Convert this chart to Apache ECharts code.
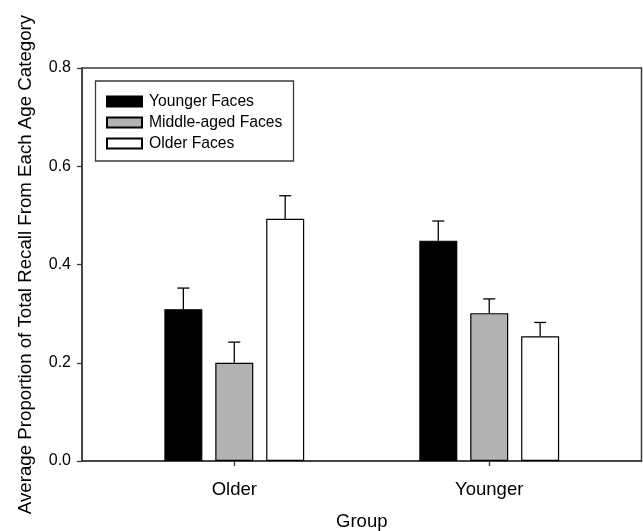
<!DOCTYPE html>
<html>
<head>
<meta charset="utf-8">
<script src="https://cdn.jsdelivr.net/npm/echarts@6/dist/echarts.min.js"></script>
<style>html,body{margin:0;padding:0;background:#fff;}#c{width:643px;height:531px;}</style>
</head>
<body>
<div id="c"></div>
<script>
const categories = ['Older', 'Younger'];
const seriesNames = ['Younger Faces', 'Middle-aged Faces', 'Older Faces'];
const youngerFaces = [0.309, 0.4485];
const middleFaces = [0.200, 0.301];
const olderFaces = [0.493, 0.254];
const youngerErr = [0.043, 0.040];
const middleErr = [0.042, 0.029];
const olderErr = [0.047, 0.028];
const yTicks = [0, 0.2, 0.4, 0.6, 0.8];

const FONT = 'Liberation Sans, Arial, sans-serif';
const AX = '#3a3a3a';
const BAR_W = 38, GAP = 0.34;
const colors = ['#000000', '#b3b3b3', '#ffffff'];
const values = [youngerFaces, middleFaces, olderFaces];
const errs = [youngerErr, middleErr, olderErr];

const chart = echarts.init(document.getElementById('c'), null, {renderer: 'canvas'});

const barSeries = seriesNames.map((n, i) => ({
  name: n, type: 'bar', xAxisIndex: 1, yAxisIndex: 1,
  barWidth: BAR_W, barGap: (GAP * 100) + '%',
  data: values[i],
  itemStyle: {color: colors[i], borderColor: '#000', borderWidth: 1.2},
  emphasis: {disabled: true}, animation: false
}));

const errSeries = seriesNames.map((n, i) => ({
  type: 'custom', xAxisIndex: 1, yAxisIndex: 1, z: 5,
  data: values[i].map((v, k) => [k, v, errs[i][k]]),
  renderItem: function (params, api) {
    const off = (i - 1) * BAR_W * (1 + GAP);
    const p0 = api.coord([api.value(0), api.value(1)]);
    const p1 = api.coord([api.value(0), api.value(1) + api.value(2)]);
    const x = p0[0] + off;
    return {type: 'group', children: [
      {type: 'line', shape: {x1: x, y1: p0[1], x2: x, y2: p1[1]}, style: {stroke: '#000', lineWidth: 1.3}},
      {type: 'line', shape: {x1: x - 6, y1: p1[1], x2: x + 6, y2: p1[1]}, style: {stroke: '#000', lineWidth: 1.3}}
    ]};
  },
  animation: false, silent: true
}));

chart.setOption({
  backgroundColor: '#fff',
  animation: false,
  textStyle: {fontFamily: FONT},
  grid: [
    {left: 82, right: 1.5, top: 68, bottom: 70, show: true, borderColor: AX, borderWidth: 1.5, containLabel: false, outerBoundsMode: 'none'},
    {left: 106.8, right: 26.3, top: 68, bottom: 70, containLabel: false, outerBoundsMode: 'none'}
  ],
  legend: {
    data: seriesNames.map(n => ({name: n, icon: 'rect'})), orient: 'vertical', left: 106, top: 93.5, padding: 0,
    itemWidth: 35, itemHeight: 10, itemGap: 5,
    textStyle: {fontSize: 15.7, color: '#000', fontFamily: FONT, lineHeight: 15, padding: [0, 0, 0, 2]},
    selectedMode: false
  },
  graphic: [{type: 'rect', shape: {x: 95.5, y: 81, width: 198, height: 80}, style: {fill: 'none', stroke: AX, lineWidth: 1.3}, z: 10}],
  xAxis: [
    {type: 'value', gridIndex: 0, min: 0, max: 1, axisLine: {show: true, lineStyle: {color: AX, width: 1.5}}, axisTick: {show: false}, axisLabel: {show: false}, splitLine: {show: false}},
    {type: 'category', gridIndex: 1, data: categories,
     axisLine: {show: false},
     axisTick: {show: true, alignWithLabel: true, length: 5, inside: false, lineStyle: {color: AX, width: 1.3}},
     axisLabel: {fontSize: 18.5, color: '#000', margin: 19, fontFamily: FONT},
     name: 'Group', nameLocation: 'middle', nameGap: 51,
     nameTextStyle: {fontSize: 18.5, color: '#000', fontFamily: FONT}}
  ],
  yAxis: [
    {type: 'value', gridIndex: 0, min: 0, max: 0.8, interval: 0.2,
     axisLine: {show: true, lineStyle: {color: AX, width: 1.5}},
     axisTick: {show: true, length: 5, lineStyle: {color: AX, width: 1.3}},
     axisLabel: {fontSize: 16, color: '#000', margin: 11, fontFamily: FONT, formatter: v => yTicks.includes(+v.toFixed(1)) ? v.toFixed(1) : ''},
     splitLine: {show: false},
     name: 'Average Proportion of Total Recall From Each Age Category', nameLocation: 'middle', nameGap: 47,
     nameTextStyle: {fontSize: 18.7, color: '#000', fontFamily: FONT}},
    {type: 'value', gridIndex: 1, min: 0, max: 0.8, show: false}
  ],
  series: barSeries.concat(errSeries)
});
</script>
</body>
</html>
